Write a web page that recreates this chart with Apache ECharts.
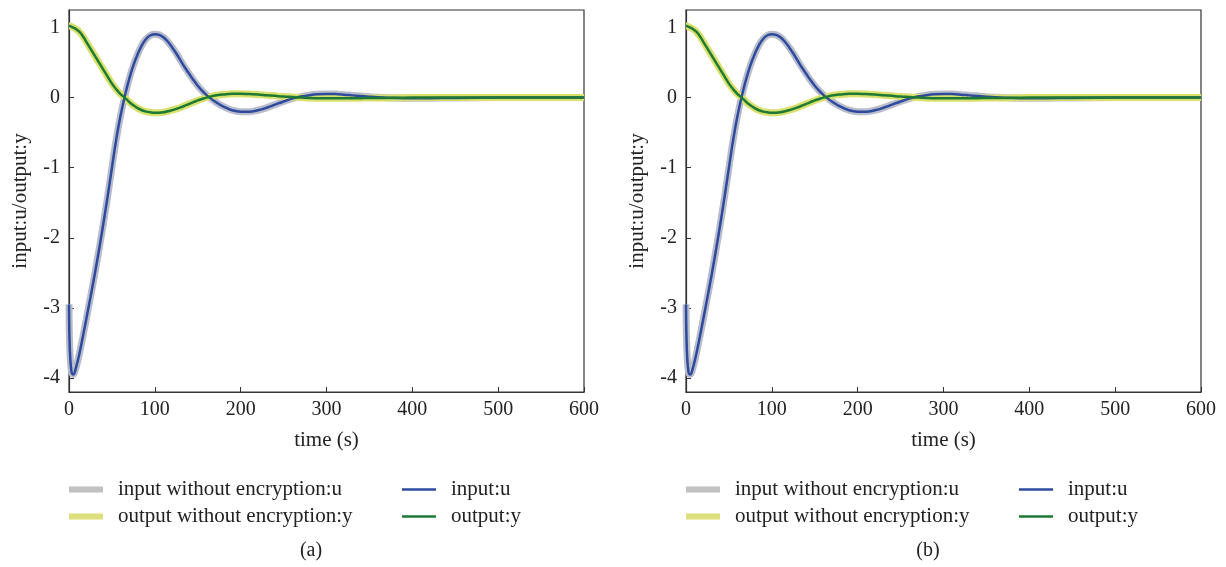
<!DOCTYPE html>
<html>
<head>
<meta charset="utf-8">
<script src="https://cdn.jsdelivr.net/npm/echarts@6/dist/echarts.min.js"></script>
<style>
  html, body { margin: 0; padding: 0; background: #fff; }
  #chart { width: 1226px; height: 567px; }
</style>
</head>
<body>
<div id="chart"></div>
<script>
// time samples (s)
var timeS = [0, 1, 3, 5, 8, 12, 16, 20, 25, 30, 35, 40, 45, 50, 55, 60, 65, 70, 75, 80, 85, 90, 95,
  100, 105, 110, 115, 120, 125, 130, 135, 140, 145, 150, 155, 160, 165, 170, 180, 190, 200, 210,
  220, 230, 240, 250, 260, 270, 280, 290, 300, 310, 320, 330, 340, 350, 360, 380, 400, 420, 450,
  500, 550, 600];
// input u (same curve with and without encryption)
var inputU = [-2.95, -3.6, -3.92, -3.95, -3.86, -3.66, -3.42, -3.17, -2.85, -2.52, -2.17, -1.8, -1.41,
  -1.0, -0.6, -0.26, 0.02, 0.26, 0.46, 0.62, 0.75, 0.84, 0.89,
  0.905, 0.895, 0.86, 0.8, 0.72, 0.63, 0.53, 0.43, 0.34, 0.25, 0.17, 0.1, 0.04, -0.01, -0.055, -0.13,
  -0.18, -0.2, -0.2, -0.18, -0.145, -0.1, -0.055, -0.015, 0.015, 0.035, 0.048, 0.052, 0.05, 0.042, 0.032,
  0.022, 0.012, 0.004, -0.006, -0.01, -0.008, -0.004, 0, 0, 0];
// output y
var outputY = [1.02, 1.02, 1.01, 1.0, 0.98, 0.94, 0.88, 0.8, 0.7, 0.6, 0.5, 0.4, 0.3, 0.2, 0.12,
  0.05, 0.0, -0.06, -0.11, -0.15, -0.18, -0.2, -0.21,
  -0.215, -0.215, -0.21, -0.195, -0.18, -0.16, -0.14, -0.115, -0.09, -0.065, -0.04, -0.02, 0.0,
  0.015, 0.03, 0.045, 0.055, 0.055, 0.05, 0.045, 0.035, 0.025, 0.015, 0.008, 0.0, -0.005, -0.008,
  -0.01, -0.01, -0.01, -0.009, -0.008, -0.006, -0.005, -0.003, 0, 0, 0, 0, 0, 0];
var yTicks = [-4, -3, -2, -1, 0, 1];
var panelLabels = ['(a)', '(b)'];
var names = ['input without encryption:u', 'output without encryption:y', 'input:u', 'output:y'];

var chart = echarts.init(document.getElementById('chart'));
var font = 'Liberation Serif';
var fs = 20;

function pairs(vals) {
  return timeS.map(function (t, i) { return [t, vals[i]]; });
}

var panelLeft = [69, 686];
var plotW = 515;
var grids = [], xAxes = [], yAxes = [], series = [], legends = [], titles = [];

panelLeft.forEach(function (left, k) {
  grids.push({
    left: left, top: 10, width: plotW, height: 382,
    show: true, borderColor: '#333', borderWidth: 1.2, containLabel: false
  });
  xAxes.push({
    gridIndex: k, type: 'value', min: 0, max: 600, interval: 100,
    name: 'time (s)', nameLocation: 'middle', nameGap: 38,
    nameTextStyle: { fontFamily: font, fontSize: 21, color: '#222' },
    axisLine: { show: true, onZero: false, lineStyle: { color: '#333', width: 1.2 } },
    axisTick: { show: true, inside: true, length: 5, lineStyle: { color: '#333' } },
    axisLabel: { fontFamily: font, fontSize: fs, color: '#222', margin: 8 },
    splitLine: { show: false }
  });
  yAxes.push({
    gridIndex: k, type: 'value', min: -4.2, max: 1.25,
    name: 'input:u/output:y', nameLocation: 'middle', nameGap: 38, nameRotate: 90,
    nameTextStyle: { fontFamily: font, fontSize: 21, color: '#222' },
    axisLine: { show: true, onZero: false, lineStyle: { color: '#333', width: 1.2 } },
    axisTick: { show: true, inside: true, length: 5, customValues: yTicks, lineStyle: { color: '#333' } },
    axisLabel: { fontFamily: font, fontSize: fs, color: '#222', margin: 9, customValues: yTicks },
    splitLine: { show: false }
  });
  var base = { type: 'line', xAxisIndex: k, yAxisIndex: k, symbol: 'none', smooth: 0.4, silent: true };
  series.push(Object.assign({}, base, { name: names[0], data: pairs(inputU),
    lineStyle: { color: '#b9bccb', width: 7 }, itemStyle: { color: '#c0c0c0' } }));
  series.push(Object.assign({}, base, { name: names[1], data: pairs(outputY),
    lineStyle: { color: '#d9e06c', width: 7 }, itemStyle: { color: '#dde07a' } }));
  series.push(Object.assign({}, base, { name: names[2], data: pairs(inputU),
    lineStyle: { color: '#2e4a9e', width: 2.5 }, itemStyle: { color: '#2e4a9e' } }));
  series.push(Object.assign({}, base, { name: names[3], data: pairs(outputY),
    lineStyle: { color: '#1d7a34', width: 2.5 }, itemStyle: { color: '#1d7a34' } }));

  var legText = { fontFamily: font, fontSize: 21, color: '#222', lineHeight: 20, padding: [0, 0, 0, 10] };
  legends.push({
    orient: 'vertical', left: left, top: 479, padding: 0, itemGap: 6, itemWidth: 34, itemHeight: 6,
    icon: 'rect', selectedMode: false, textStyle: legText,
    itemStyle: { borderWidth: 0 },
    data: [{ name: names[0], itemStyle: { color: '#c0c0c0' } },
           { name: names[1], itemStyle: { color: '#dde07a' } }]
  });
  legends.push({
    orient: 'vertical', left: left + 333, top: 479, padding: 0, itemGap: 6, itemWidth: 34, itemHeight: 2.5,
    icon: 'rect', selectedMode: false, textStyle: legText,
    itemStyle: { borderWidth: 0 },
    data: [{ name: names[2], itemStyle: { color: '#2e4a9e' } },
           { name: names[3], itemStyle: { color: '#1d7a34' } }]
  });
  titles.push({
    text: panelLabels[k], left: left + 242, top: 541, padding: 0, textAlign: 'center',
    textStyle: { fontFamily: font, fontSize: fs, fontWeight: 'normal', color: '#222' }
  });
});

chart.setOption({
  animation: false,
  title: titles,
  grid: grids,
  xAxis: xAxes,
  yAxis: yAxes,
  legend: legends,
  series: series
});
</script>
</body>
</html>
